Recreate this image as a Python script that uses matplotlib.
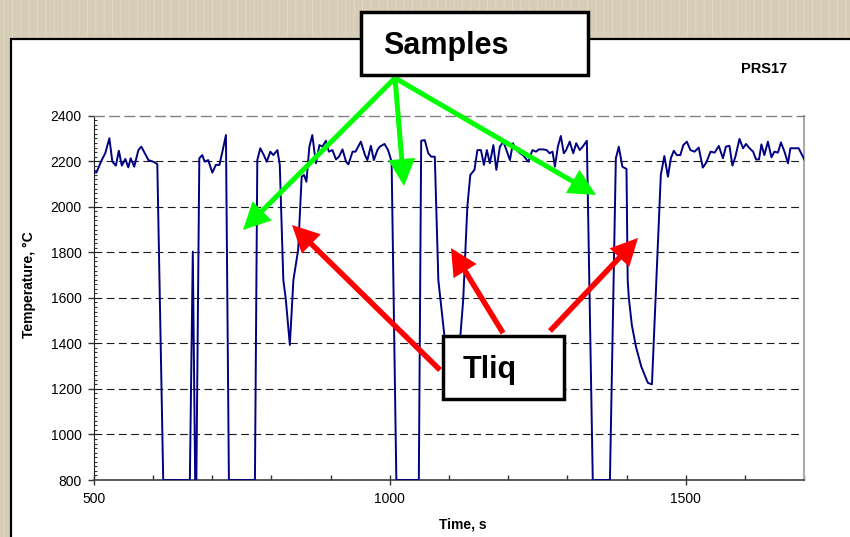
import matplotlib.pyplot as plt
from matplotlib.patches import Rectangle, FancyArrow
from matplotlib.ticker import MultipleLocator

# temperature trace (time in s, temperature in degC)
time_s = [500, 504, 513, 519, 526, 531, 537, 542, 547, 553, 558, 562, 568, 575, 580,
          586, 592, 600, 607, 617, 662, 667, 671, 673, 678, 683, 687, 693, 700, 706,
          712, 717, 723, 728, 772, 776, 781, 787, 792, 798, 803, 810, 814, 820, 824,
          831, 837, 845, 851, 855, 859, 864, 869, 875, 881, 886, 892, 897, 903, 909,
          914, 920, 926, 930, 937, 942, 951, 958, 962, 968, 973, 979, 983, 991, 997,
          1003, 1011, 1049, 1053, 1059, 1065, 1070, 1076, 1082, 1093, 1098, 1104, 1112, 1115, 1124,
          1131, 1136, 1143, 1148, 1154, 1159, 1164, 1169, 1175, 1180, 1186, 1192, 1197, 1203, 1208,
          1214, 1220, 1225, 1234, 1241, 1247, 1252, 1259, 1265, 1270, 1275, 1279, 1284, 1289, 1294,
          1298, 1304, 1310, 1315, 1321, 1326, 1333, 1343, 1372, 1382, 1387, 1393, 1400, 1402, 1404,
          1409, 1416, 1425, 1436, 1443, 1458, 1464, 1470, 1475, 1480, 1485, 1491, 1496, 1502, 1508,
          1515, 1522, 1529, 1535, 1542, 1549, 1556, 1563, 1568, 1574, 1579, 1584, 1591, 1597, 1602,
          1608, 1614, 1619, 1624, 1628, 1633, 1639, 1645, 1650, 1656, 1661, 1667, 1673, 1677, 1684,
          1691, 1701]
temp_c = [2154, 2150, 2205, 2235, 2301, 2198, 2181, 2246, 2181, 2210, 2173, 2213, 2176, 2249, 2264,
          2235, 2205, 2198, 2188, 800, 800, 1803, 800, 800, 2213, 2227, 2198, 2205, 2150, 2184,
          2184, 2242, 2315, 800, 800, 2205, 2257, 2227, 2198, 2242, 2227, 2249, 2184, 1678, 1598,
          1393, 1678, 1810, 2132, 2140, 2110, 2264, 2315, 2191, 2271, 2264, 2290, 2242, 2249, 2208,
          2220, 2252, 2198, 2186, 2242, 2242, 2286, 2227, 2205, 2268, 2205, 2249, 2264, 2276, 2249,
          2198, 800, 800, 2290, 2293, 2235, 2220, 2220, 1678, 1415, 1393, 1334, 1320, 1295, 1591,
          2000, 2140, 2162, 2249, 2249, 2184, 2249, 2191, 2271, 2162, 2264, 2286, 2249, 2205, 2279,
          2249, 2235, 2227, 2198, 2249, 2242, 2252, 2252, 2249, 2235, 2242, 2176, 2264, 2311, 2235,
          2249, 2286, 2235, 2279, 2249, 2264, 2290, 800, 800, 2213, 2264, 2176, 2166, 1678, 1598,
          1481, 1385, 1298, 1227, 1220, 2140, 2223, 2132, 2213, 2246, 2227, 2227, 2271, 2286, 2249,
          2242, 2260, 2172, 2195, 2242, 2238, 2267, 2213, 2264, 2268, 2181, 2220, 2298, 2257, 2276,
          2257, 2242, 2208, 2208, 2274, 2227, 2286, 2217, 2242, 2238, 2283, 2242, 2191, 2257, 2257,
          2257, 2205]

x_major = [500, 1000, 1500]
y_major = [800, 1000, 1200, 1400, 1600, 1800, 2000, 2200, 2400]

plt.rcParams['font.family'] = ['Liberation Sans', 'DejaVu Sans']
plt.rcParams['hatch.linewidth'] = 0.6

fig = plt.figure(figsize=(8.5, 5.37), dpi=100)
fig.patch.set_facecolor('#d7cdb6')
inch = fig.dpi_scale_trans

# textured backdrop and the white slide panel
fig.add_artist(Rectangle((0, 0), 8.5, 5.37, transform=inch, facecolor='#d7cdb6',
                         edgecolor='#e2dac8', hatch='||', lw=0, zorder=-3))
fig.add_artist(Rectangle((0.11, -0.2), 9.0, 5.18, transform=inch, facecolor='white',
                         edgecolor='black', lw=1.6, zorder=-2))

ax = fig.add_axes([94 / 850, 1 - 480 / 537, 710 / 850, 364.3 / 537])
ax.set_facecolor('white')
ax.plot(time_s, temp_c, color='#000080', lw=1.4, zorder=3)

ax.set_xlim(500, 1700)
ax.set_ylim(800, 2400)
ax.set_xticks(x_major)
ax.set_yticks(y_major)
ax.xaxis.set_minor_locator(MultipleLocator(100))
ax.yaxis.set_minor_locator(MultipleLocator(20))

ax.tick_params(axis='x', which='major', direction='inout', length=7, width=1,
               color='#333333', labelsize=10, pad=5)
ax.tick_params(axis='x', which='minor', direction='in', length=3.5, width=1, color='#333333')
ax.tick_params(axis='y', which='major', direction='out', length=4, width=1,
               color='#333333', labelsize=10, pad=5)
ax.tick_params(axis='y', which='minor', direction='in', length=2.5, width=0.8, color='#333333')

ax.grid(axis='y', which='major', color='#1a1a1a', linestyle=(0, (7, 4)), lw=0.8)
ax.yaxis.get_gridlines()[-1].set_visible(False)

ax.spines['top'].set_linestyle((0, (7, 4)))
ax.spines['top'].set_color('#808080')
ax.spines['top'].set_linewidth(1.0)
ax.spines['right'].set_color('#aaaaaa')
ax.spines['right'].set_linewidth(1.5)
ax.spines['left'].set_color('#222222')
ax.spines['bottom'].set_color('#404040')
ax.spines['bottom'].set_linewidth(1.2)

ax.set_xlabel('Time, s', fontsize=10, fontweight='bold')
ax.xaxis.set_label_coords(0.52, -0.104)
ax.set_ylabel('Temperature, °C', fontsize=10, fontweight='bold')
ax.yaxis.set_label_coords(-0.081, 0.535)

fig.text(764 / 850, 1 - 69 / 537, 'PRS17', ha='center', va='center',
         fontsize=10.5, fontweight='bold')

# annotation arrows (inches from bottom-left)
green_start = (3.95, 4.59)
green_tips = [(2.43, 3.07), (4.04, 3.51), (5.96, 3.42)]
for tx, ty in green_tips:
    fig.add_artist(FancyArrow(green_start[0], green_start[1], tx - green_start[0], ty - green_start[1],
                              width=0.05, head_width=0.27, head_length=0.27,
                              length_includes_head=True, transform=inch,
                              color='#00ff00', lw=0, zorder=5))

red_arrows = [((4.40, 1.67), (2.92, 3.12)), ((5.03, 2.04), (4.51, 2.89)), ((5.50, 2.06), (6.38, 2.99))]
for (sx, sy), (tx, ty) in red_arrows:
    fig.add_artist(FancyArrow(sx, sy, tx - sx, ty - sy,
                              width=0.055, head_width=0.27, head_length=0.27,
                              length_includes_head=True, transform=inch,
                              color='#ff0000', lw=0, zorder=5))

# label boxes
fig.add_artist(Rectangle((3.61, 4.62), 2.27, 0.63, transform=inch, facecolor='white',
                         edgecolor='black', lw=2.5, zorder=6))
fig.text(3.83, 4.83, 'Samples', transform=inch, ha='left', va='baseline',
         fontsize=22, fontweight='bold', zorder=7)

fig.add_artist(Rectangle((4.43, 1.38), 1.21, 0.63, transform=inch, facecolor='white',
                         edgecolor='black', lw=2.5, zorder=6))
fig.text(4.63, 1.587, 'Tliq', transform=inch, ha='left', va='baseline',
         fontsize=22, fontweight='bold', zorder=7)

fig.savefig('out.png', dpi=100)
